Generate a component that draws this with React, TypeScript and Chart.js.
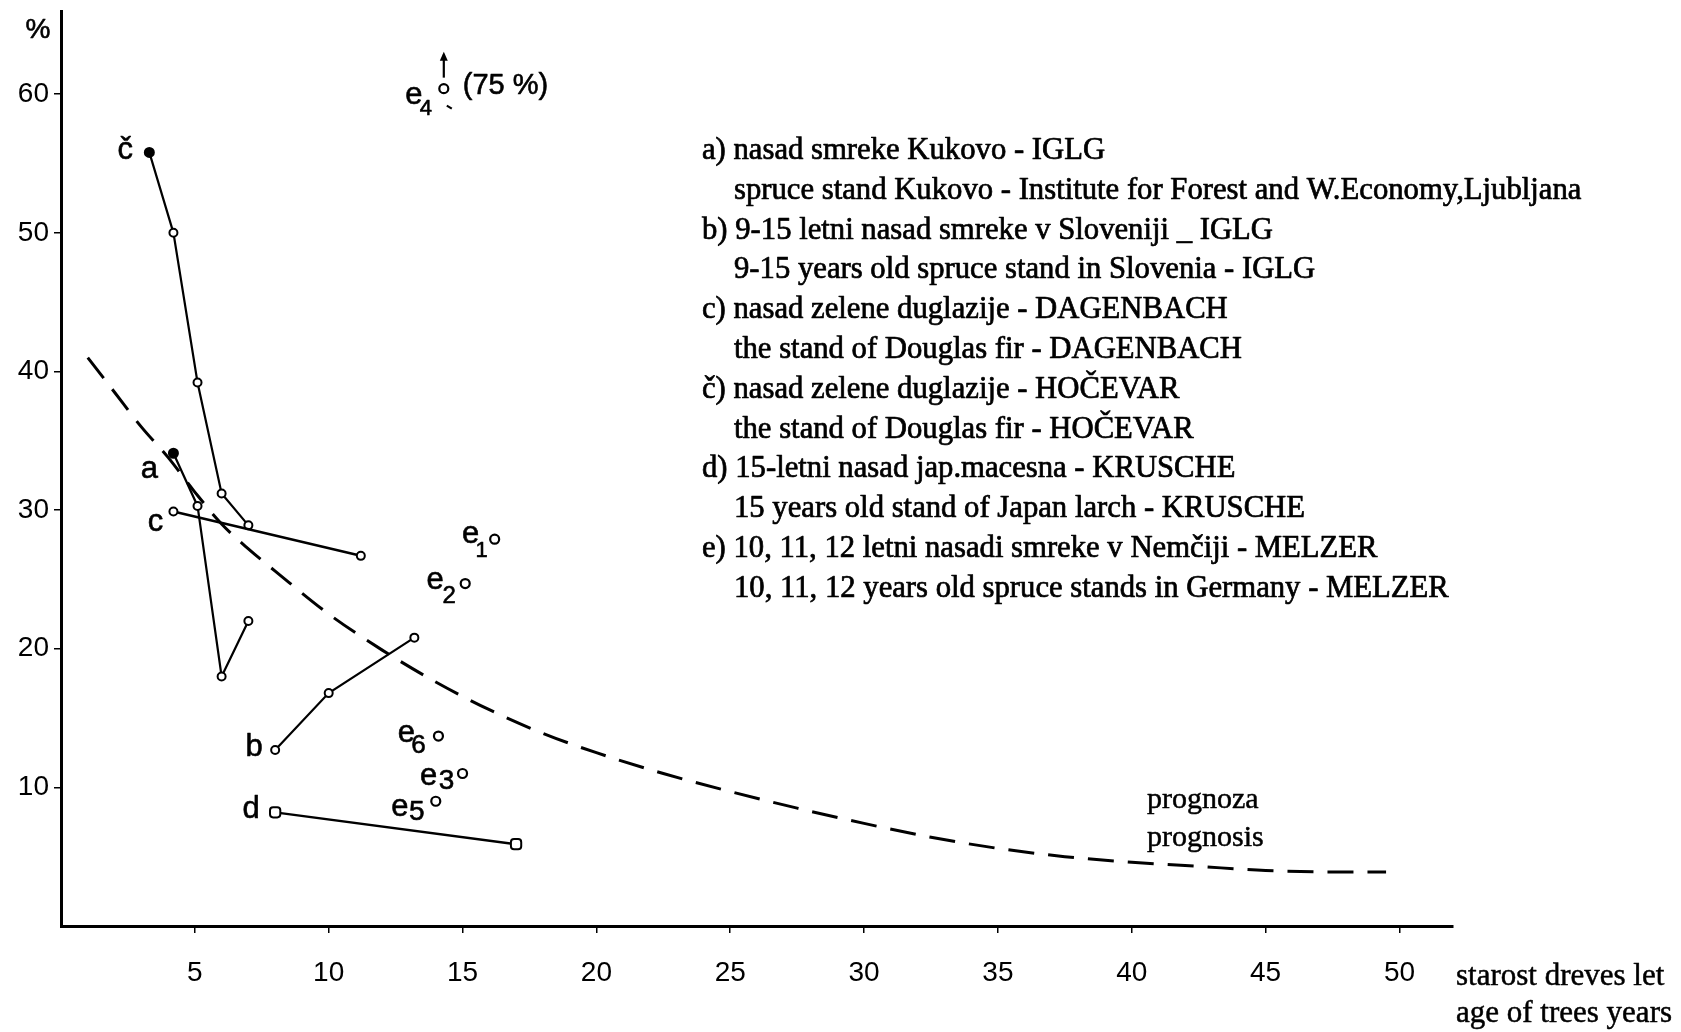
import { useEffect, useRef } from 'react';
import { Chart, registerables } from 'chart.js';

Chart.register(...registerables);

const xTicks = [5, 10, 15, 20, 25, 30, 35, 40, 45, 50];
const yTicks = [10, 20, 30, 40, 50, 60];

const aX = [4.2, 5.1, 6.0, 7.0];
const aY = [34.1, 30.3, 18.0, 22.0];
const bX = [8.0, 10.0, 13.2];
const bY = [12.7, 16.8, 20.8];
const cX = [4.2, 11.2];
const cY = [29.9, 26.7];
const chX = [3.3, 4.2, 5.1, 6.0, 7.0];
const chY = [55.8, 50.0, 39.2, 31.2, 28.9];
const dX = [8.0, 17.0];
const dY = [8.2, 5.9];

const eNames = ['1', '2', '3', '4', '5', '6'];
const eX = [16.2, 15.1, 15.0, 14.3, 14.0, 14.1];
const eY = [27.9, 24.7, 11.0, 60.4, 9.0, 13.7];

const progX = [1, 2, 3, 4, 5, 6, 7, 8, 10, 12, 14, 16, 18, 20, 22.5, 25, 27.5, 30, 32.5, 35, 37.5, 40, 42.5, 45, 47.5, 49.5];
const progY = [41, 38.5, 36, 33.8, 31.3, 29, 27.2, 25.6, 22.5, 19.9, 17.6, 15.6, 13.9, 12.5, 11, 9.7, 8.5, 7.4, 6.4, 5.6, 5.0, 4.6, 4.3, 4.0, 3.9, 3.9];

const legendLines = [
  'a) nasad smreke Kukovo - IGLG',
  'spruce stand Kukovo - Institute for Forest and W.Economy,Ljubljana',
  'b) 9-15 letni nasad smreke v Sloveniji _ IGLG',
  '9-15 years old spruce stand in Slovenia - IGLG',
  'c) nasad zelene duglazije - DAGENBACH',
  'the stand of Douglas fir - DAGENBACH',
  'č) nasad zelene duglazije - HOČEVAR',
  'the stand of Douglas fir - HOČEVAR',
  'd) 15-letni nasad jap.macesna - KRUSCHE',
  '15 years old stand of Japan larch - KRUSCHE',
  'e) 10, 11, 12 letni nasadi smreke v Nemčiji - MELZER',
  '10, 11, 12 years old spruce stands in Germany - MELZER',
];

const xTitle = ['starost dreves let', 'age of trees years'];
const progLabel = ['prognoza', 'prognosis'];
const yUnit = '%';
const e4Note = '(75 %)';

const pts = (xs: number[], ys: number[]) => xs.map((x, i) => ({ x, y: ys[i] }));

const SANS = '"Liberation Sans", Arial, sans-serif';
const SERIF = '"Liberation Serif", "Times New Roman", serif';

const annotPlugin = {
  id: 'annot',
  afterDatasetsDraw(chart: any) {
    const { ctx, scales } = chart;
    const x = scales.x;
    const y = scales.y;
    const px = (v: number) => x.getPixelForValue(v);
    const py = (v: number) => y.getPixelForValue(v);
    ctx.save();
    ctx.fillStyle = '#000';
    ctx.strokeStyle = '#000';
    ctx.textBaseline = 'middle';
    ctx.textAlign = 'center';
    ctx.lineJoin = 'round';
    const txt = (t: string, tx: number, ty: number, w = 0.6) => {
      ctx.fillText(t, tx, ty);
      ctx.lineWidth = w;
      ctx.strokeText(t, tx, ty);
    };

    // series letters
    ctx.font = `31px ${SANS}`;
    const series = [
      { t: 'č', x: chX[0], y: chY[0], dx: -24, dy: -2 },
      { t: 'a', x: aX[0], y: aY[0], dx: -24, dy: 16 },
      { t: 'c', x: cX[0], y: cY[0], dx: -18, dy: 11 },
      { t: 'b', x: bX[0], y: bY[0], dx: -21, dy: -2 },
      { t: 'd', x: dX[0], y: dY[0], dx: -24, dy: -3 },
    ];
    series.forEach((s) => txt(s.t, px(s.x) + s.dx, py(s.y) + s.dy));

    // e labels
    const eOff: Record<string, number[]> = {
      '1': [-24, -5, -13, 12, 22],
      '2': [-30, -3, -16, 13, 24],
      '3': [-34, 3, -16, 8, 28],
      '4': [-30, 7, -18, 20, 22],
      '5': [-36, 6, -19, 11, 28],
      '6': [-32, -3, -20, 10, 26],
    };
    eNames.forEach((n, i) => {
      const cx = px(eX[i]);
      const cy = py(eY[i]);
      const o = eOff[n];
      ctx.font = `31px ${SANS}`;
      txt('e', cx + o[0], cy + o[1]);
      ctx.font = `${o[4]}px ${SANS}`;
      txt(n, cx + o[2], cy + o[3]);
    });

    // e4 extras: arrow and note
    const i4 = eNames.indexOf('4');
    const c4x = px(eX[i4]);
    const c4y = py(eY[i4]);
    ctx.lineWidth = 2.2;
    ctx.beginPath();
    ctx.moveTo(c4x, c4y - 11);
    ctx.lineTo(c4x, c4y - 34);
    ctx.stroke();
    ctx.beginPath();
    ctx.moveTo(c4x - 4, c4y - 28);
    ctx.lineTo(c4x, c4y - 37);
    ctx.lineTo(c4x + 4, c4y - 28);
    ctx.closePath();
    ctx.fill();
    ctx.beginPath();
    ctx.moveTo(c4x + 3, c4y + 17);
    ctx.lineTo(c4x + 8, c4y + 20);
    ctx.stroke();
    ctx.font = `29px ${SANS}`;
    ctx.textAlign = 'left';
    txt(e4Note, c4x + 19, c4y - 3);

    // y unit
    const ca = chart.chartArea;
    ctx.textAlign = 'center';
    ctx.font = `28px ${SANS}`;
    txt(yUnit, ca.left - 23, ca.top + 19);

    // legend text block
    ctx.textAlign = 'left';
    ctx.font = `30.7px ${SERIF}`;
    legendLines.forEach((t, i) => {
      const indent = i % 2 === 1 ? 32 : 0;
      txt(t, 702 + indent, 151 + i * 39.8, 0.7);
    });

    // prognosis label
    ctx.font = `30px ${SERIF}`;
    txt(progLabel[0], 1147, 800, 0.5);
    txt(progLabel[1], 1147, 838, 0.5);

    // x axis title
    ctx.font = `31px ${SERIF}`;
    txt(xTitle[0], 1456, 977, 0.5);
    txt(xTitle[1], 1456, 1014, 0.5);

    ctx.restore();
  },
};

export default function App() {
  const ref = useRef<HTMLCanvasElement | null>(null);
  useEffect(() => {
    if (!ref.current) return;
    const lineDs = (data: any[], first: boolean, width = 2.2) => ({
      data,
      showLine: true,
      borderColor: '#000',
      borderWidth: width,
      pointRadius: data.map((_, i) => (first && i === 0 ? 4.5 : 4)),
      pointBorderWidth: 2,
      pointBorderColor: '#000',
      pointBackgroundColor: data.map((_, i) => (first && i === 0 ? '#000' : '#fff')),
      pointStyle: 'circle',
    });
    const chart = new Chart(ref.current, {
      type: 'scatter',
      data: {
        datasets: [
          {
            data: pts(progX, progY),
            showLine: true,
            borderColor: '#000',
            borderWidth: 3,
            borderDash: [26, 14],
            pointRadius: 0,
            cubicInterpolationMode: 'monotone',
          } as any,
          lineDs(pts(aX, aY), true),
          lineDs(pts(bX, bY), false),
          lineDs(pts(cX, cY), false, 2.6),
          lineDs(pts(chX, chY), true),
          {
            data: pts(dX, dY),
            showLine: true,
            borderColor: '#000',
            borderWidth: 2.4,
            pointStyle: 'rectRounded',
            pointRadius: 6,
            pointBorderWidth: 2,
            pointBorderColor: '#000',
            pointBackgroundColor: '#fff',
          } as any,
          {
            data: pts(eX, eY),
            showLine: false,
            pointStyle: 'circle',
            pointRadius: 4.5,
            pointBorderWidth: 2.2,
            pointBorderColor: '#000',
            pointBackgroundColor: '#fff',
          } as any,
        ],
      },
      options: {
        animation: false,
        responsive: false,
        devicePixelRatio: 1,
        layout: { padding: { top: 11, right: 228, left: 0, bottom: 0 } },
        plugins: { legend: { display: false }, tooltip: { enabled: false } },
        scales: {
          x: {
            type: 'linear',
            min: 0,
            max: 52,
            afterBuildTicks: (s: any) => {
              s.ticks = xTicks.map((v) => ({ value: v }));
            },
            afterFit: (s: any) => {
              s.height = 106;
              s.paddingLeft = 0;
              s.paddingRight = 0;
            },
            border: { display: true, color: '#000', width: 3 },
            grid: { display: true, drawOnChartArea: false, drawTicks: true, tickLength: 7, color: '#000', lineWidth: 1.5 },
            ticks: { color: '#000', font: { family: SANS, size: 28 }, padding: 23, maxRotation: 0, autoSkip: false },
          },
          y: {
            type: 'linear',
            min: 0,
            max: 66,
            afterBuildTicks: (s: any) => {
              s.ticks = yTicks.map((v) => ({ value: v }));
            },
            afterFit: (s: any) => {
              s.width = 61;
              s.paddingTop = 0;
              s.paddingBottom = 0;
            },
            border: { display: true, color: '#000', width: 3 },
            grid: { display: true, drawOnChartArea: false, drawTicks: true, tickLength: 7, color: '#000', lineWidth: 1.5 },
            ticks: { color: '#000', font: { family: SANS, size: 28 }, padding: 5, autoSkip: false },
          },
        },
      } as any,
      plugins: [annotPlugin],
    });
    return () => chart.destroy();
  }, []);
  return (
    <div style={{ position: 'fixed', left: 0, top: 0, width: 1681, height: 1032, background: '#fff' }}>
      <canvas ref={ref} width={1681} height={1032} style={{ display: 'block' }} />
    </div>
  );
}
